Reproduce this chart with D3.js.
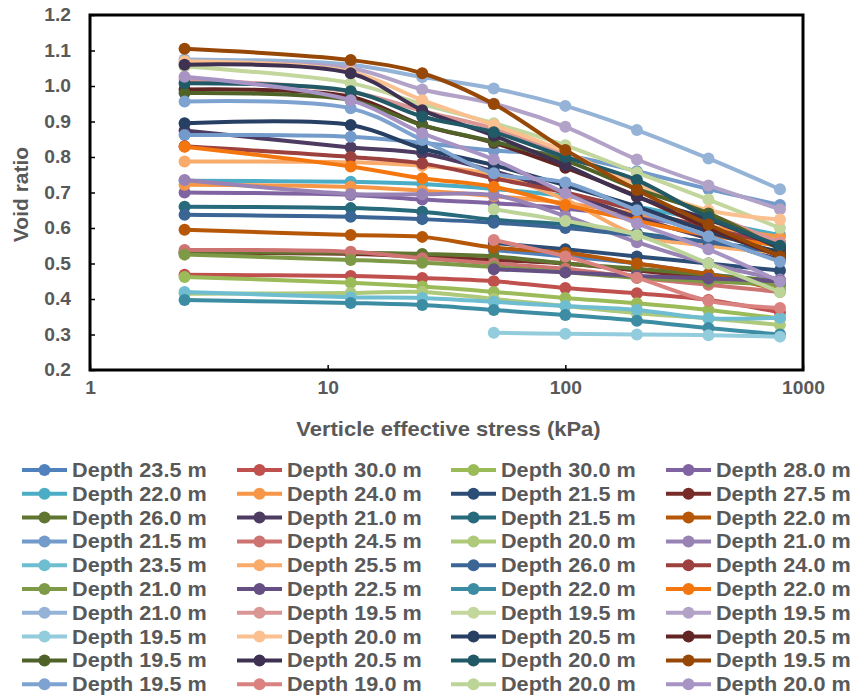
<!DOCTYPE html>
<html>
<head>
<meta charset="utf-8">
<script src="https://cdn.jsdelivr.net/npm/d3@7/dist/d3.min.js"></script>
<style>
  body { margin: 0; background: #ffffff; }
  svg { display: block; font-family: "Liberation Sans", Arial, sans-serif; }
</style>
</head>
<body>
<svg id="chart" width="855" height="699"></svg>
<script>
// Load steps of the oedometer tests (kPa)
const stressKPa = [2.5, 12.5, 25, 50, 100, 200, 400, 800];

const depthLabels = [
  "Depth 23.5 m", "Depth 30.0 m", "Depth 30.0 m", "Depth 28.0 m",
  "Depth 22.0 m", "Depth 24.0 m", "Depth 21.5 m", "Depth 27.5 m",
  "Depth 26.0 m", "Depth 21.0 m", "Depth 21.5 m", "Depth 22.0 m",
  "Depth 21.5 m", "Depth 24.5 m", "Depth 20.0 m", "Depth 21.0 m",
  "Depth 23.5 m", "Depth 25.5 m", "Depth 26.0 m", "Depth 24.0 m",
  "Depth 21.0 m", "Depth 22.5 m", "Depth 22.0 m", "Depth 22.0 m",
  "Depth 21.0 m", "Depth 19.5 m", "Depth 19.5 m", "Depth 19.5 m",
  "Depth 19.5 m", "Depth 20.0 m", "Depth 20.5 m", "Depth 20.5 m",
  "Depth 19.5 m", "Depth 20.5 m", "Depth 20.0 m", "Depth 19.5 m",
  "Depth 19.5 m", "Depth 19.0 m", "Depth 20.0 m", "Depth 20.0 m"
];

const seriesColors = [
  "#4F81BD", "#C0504D", "#9BBB59", "#8064A2",
  "#4BACC6", "#F79646", "#2C4D75", "#772C2A",
  "#5F7530", "#4D3B62", "#276A7C", "#B65708",
  "#729ACA", "#CD7371", "#AFC97A", "#9983B5",
  "#6FBDD1", "#F9AB6B", "#3A6595", "#9C413E",
  "#7E9A47", "#664F83", "#3C8DA3", "#F3760E",
  "#95B3D7", "#D99694", "#C3D69B", "#B3A2C7",
  "#93CDDD", "#FAC090", "#263F63", "#632523",
  "#4F6228", "#3F3151", "#215967", "#974806",
  "#7EA3D0", "#D98280", "#BCD497", "#A793C4"
];

// Void ratio at each load step (null = step not tested)
const e01 = [null, null, null, 0.538, 0.520, 0.500, 0.470, 0.450];
const e02 = [0.468, 0.465, 0.459, 0.450, 0.431, 0.416, 0.397, 0.362];
const e03 = [0.462, 0.446, 0.435, 0.420, 0.403, 0.388, 0.369, 0.345];
const e04 = [0.700, 0.693, 0.680, 0.670, 0.655, 0.630, 0.600, 0.560];
const e05 = [0.733, 0.730, 0.724, 0.710, 0.690, 0.660, 0.620, 0.580];
const e06 = [0.722, 0.716, 0.705, 0.690, 0.670, 0.640, 0.605, 0.575];
const e07 = [null, null, null, 0.558, 0.540, 0.520, 0.500, 0.480];
const e08 = [0.530, 0.527, 0.520, 0.510, 0.500, 0.480, 0.460, 0.440];
const e09 = [0.532, 0.530, 0.527, 0.520, 0.500, 0.485, 0.468, 0.450];
const e10 = [0.875, 0.827, 0.810, 0.760, 0.700, 0.630, 0.570, 0.510];
const e11 = [0.660, 0.656, 0.646, 0.623, 0.610, 0.585, 0.560, 0.535];
const e12 = [0.595, 0.580, 0.575, 0.545, 0.530, 0.500, 0.470, 0.425];
const e13 = [0.862, 0.857, 0.840, 0.818, 0.805, 0.760, 0.710, 0.665];
const e14 = [0.538, 0.533, 0.515, 0.500, 0.485, 0.460, 0.440, 0.420];
const e15 = [0.415, 0.417, 0.420, 0.400, 0.380, 0.360, 0.345, 0.327];
const e16 = [0.735, 0.696, 0.695, 0.693, 0.634, 0.560, 0.500, 0.455];
const e17 = [0.420, 0.405, 0.403, 0.392, 0.380, 0.369, 0.346, 0.347];
const e18 = [0.787, 0.785, 0.775, 0.750, 0.680, 0.580, 0.550, 0.530];
const e19 = [0.637, 0.632, 0.625, 0.615, 0.600, 0.580, 0.560, 0.530];
const e20 = [0.830, 0.800, 0.782, 0.740, 0.700, 0.650, 0.600, 0.550];
const e21 = [0.525, 0.510, 0.502, 0.490, 0.475, 0.460, 0.450, 0.440];
const e22 = [null, null, null, 0.484, 0.475, 0.465, 0.458, 0.450];
const e23 = [0.397, 0.389, 0.383, 0.369, 0.355, 0.339, 0.318, 0.300];
const e24 = [0.829, 0.773, 0.740, 0.716, 0.665, 0.620, 0.580, 0.550];
const e25 = [1.075, 1.060, 1.025, 0.993, 0.944, 0.876, 0.796, 0.709];
const e26 = [1.018, 0.984, 0.930, 0.880, 0.810, 0.725, 0.640, 0.559];
const e27 = [1.055, 1.008, 0.949, 0.895, 0.833, 0.756, 0.680, 0.600];
const e28 = [1.065, 1.050, 0.990, 0.950, 0.885, 0.793, 0.720, 0.653];
const e29 = [null, null, null, 0.305, 0.302, 0.300, 0.298, 0.294];
const e30 = [1.070, 1.040, 0.960, 0.890, 0.815, 0.720, 0.650, 0.624];
const e31 = [0.895, 0.890, 0.824, 0.777, 0.720, 0.660, 0.590, 0.530];
const e32 = [0.990, 0.970, 0.890, 0.840, 0.770, 0.690, 0.600, 0.520];
const e33 = [0.980, 0.960, 0.890, 0.843, 0.790, 0.710, 0.641, 0.540];
const e34 = [1.060, 1.036, 0.932, 0.860, 0.777, 0.688, 0.624, 0.545];
const e35 = [1.008, 0.985, 0.914, 0.870, 0.800, 0.735, 0.630, 0.550];
const e36 = [1.105, 1.073, 1.036, 0.949, 0.820, 0.707, 0.610, 0.520];
const e37 = [0.956, 0.937, 0.848, 0.754, 0.728, 0.650, 0.577, 0.505];
const e38 = [null, null, null, 0.566, 0.520, 0.460, 0.395, 0.375];
const e39 = [null, null, null, 0.653, 0.620, 0.580, 0.500, 0.420];
const e40 = [1.026, 0.960, 0.867, 0.793, 0.698, 0.613, 0.540, 0.449];

const voidRatioSeries = [
  e01, e02, e03, e04, e05, e06, e07, e08, e09, e10,
  e11, e12, e13, e14, e15, e16, e17, e18, e19, e20,
  e21, e22, e23, e24, e25, e26, e27, e28, e29, e30,
  e31, e32, e33, e34, e35, e36, e37, e38, e39, e40
];

const yTickValues = [0.2, 0.3, 0.4, 0.5, 0.6, 0.7, 0.8, 0.9, 1.0, 1.1, 1.2];
const xTickValues = [1, 10, 100, 1000];

const svg = d3.select("#chart");
const textColor = "#595959";
const box = { left: 90, right: 803, top: 15, bottom: 370 };

const x = d3.scaleLog().domain([1, 1000]).range([box.left, box.right]);
const y = d3.scaleLinear().domain([0.2, 1.2]).range([box.bottom, box.top]);

// widen text horizontally about its anchor point
function widen(sel, k) {
  sel.each(function () {
    const t = d3.select(this);
    const ax = +t.attr("x") || 0;
    t.attr("transform", `translate(${ax},0) scale(${k},1) translate(${-ax},0)`);
  });
}

// y axis
const yAxis = svg.append("g")
  .attr("transform", `translate(${box.left},0)`)
  .call(d3.axisLeft(y).tickValues(yTickValues).tickFormat(d3.format(".1f"))
    .tickSizeInner(-5).tickSizeOuter(0).tickPadding(19));
yAxis.select(".domain").remove();
yAxis.selectAll(".tick line").attr("stroke", "#000").attr("stroke-width", 1.5);
yAxis.selectAll(".tick text")
  .attr("fill", textColor).attr("font-size", 17.5).attr("font-weight", "bold")
  .attr("font-family", "'Liberation Sans', Arial, sans-serif")
  .call(widen, 1.1);

// x axis
const xAxis = svg.append("g")
  .attr("transform", `translate(0,${box.bottom})`)
  .call(d3.axisBottom(x).tickValues(xTickValues).tickFormat(d3.format("d"))
    .tickSizeInner(-5).tickSizeOuter(0).tickPadding(12));
xAxis.select(".domain").remove();
xAxis.selectAll(".tick line").attr("stroke", "#000").attr("stroke-width", 1.5);
xAxis.selectAll(".tick text")
  .attr("fill", textColor).attr("font-size", 17.5).attr("font-weight", "bold")
  .attr("font-family", "'Liberation Sans', Arial, sans-serif")
  .call(widen, 1.1);

// series: smoothed lines with round markers
const curveGen = d3.line()
  .x(d => x(d.s))
  .y(d => y(d.v))
  .curve(d3.curveCatmullRom.alpha(0.5));

voidRatioSeries.forEach((vals, i) => {
  const pts = stressKPa.map((s, j) => ({ s, v: vals[j] })).filter(d => d.v != null);
  const g = svg.append("g");
  g.append("path").datum(pts)
    .attr("d", curveGen)
    .attr("fill", "none")
    .attr("stroke", seriesColors[i])
    .attr("stroke-width", 4)
    .attr("stroke-linejoin", "round")
    .attr("stroke-linecap", "round");
  g.selectAll("circle").data(pts).join("circle")
    .attr("cx", d => x(d.s))
    .attr("cy", d => y(d.v))
    .attr("r", 6)
    .attr("fill", seriesColors[i]);
});

// plot frame
svg.append("rect")
  .attr("x", box.left).attr("y", box.top)
  .attr("width", box.right - box.left).attr("height", box.bottom - box.top)
  .attr("fill", "none").attr("stroke", "#000").attr("stroke-width", 3);

// axis titles
svg.append("text")
  .attr("x", (box.left + box.right) / 2 + 2).attr("y", 436)
  .attr("text-anchor", "middle")
  .attr("font-size", 20).attr("font-weight", "bold").attr("fill", textColor)
  .text("Verticle effective stress (kPa)")
  .call(widen, 1.1);

svg.append("text")
  .attr("transform", `translate(28,${(box.top + box.bottom) / 2 + 2}) rotate(-90)`)
  .attr("text-anchor", "middle")
  .attr("font-size", 21).attr("font-weight", "bold").attr("fill", textColor)
  .text("Void ratio");

// legend, four columns filled row by row
const legendColX = [22, 237, 451, 666];
const legendRowY0 = 470;
const legendRowStep = 23.8;

const legend = svg.append("g");
depthLabels.forEach((label, i) => {
  const cx = legendColX[i % 4];
  const cy = legendRowY0 + Math.floor(i / 4) * legendRowStep;
  const item = legend.append("g");
  item.append("line")
    .attr("x1", cx).attr("x2", cx + 45).attr("y1", cy).attr("y2", cy)
    .attr("stroke", seriesColors[i]).attr("stroke-width", 4);
  item.append("circle")
    .attr("cx", cx + 22.5).attr("cy", cy).attr("r", 6)
    .attr("fill", seriesColors[i]);
  item.append("text")
    .attr("x", cx + 50).attr("y", cy + 7)
    .attr("font-size", 19.5).attr("font-weight", "bold").attr("fill", textColor)
    .text(label)
    .call(widen, 1.11);
});
</script>
</body>
</html>
